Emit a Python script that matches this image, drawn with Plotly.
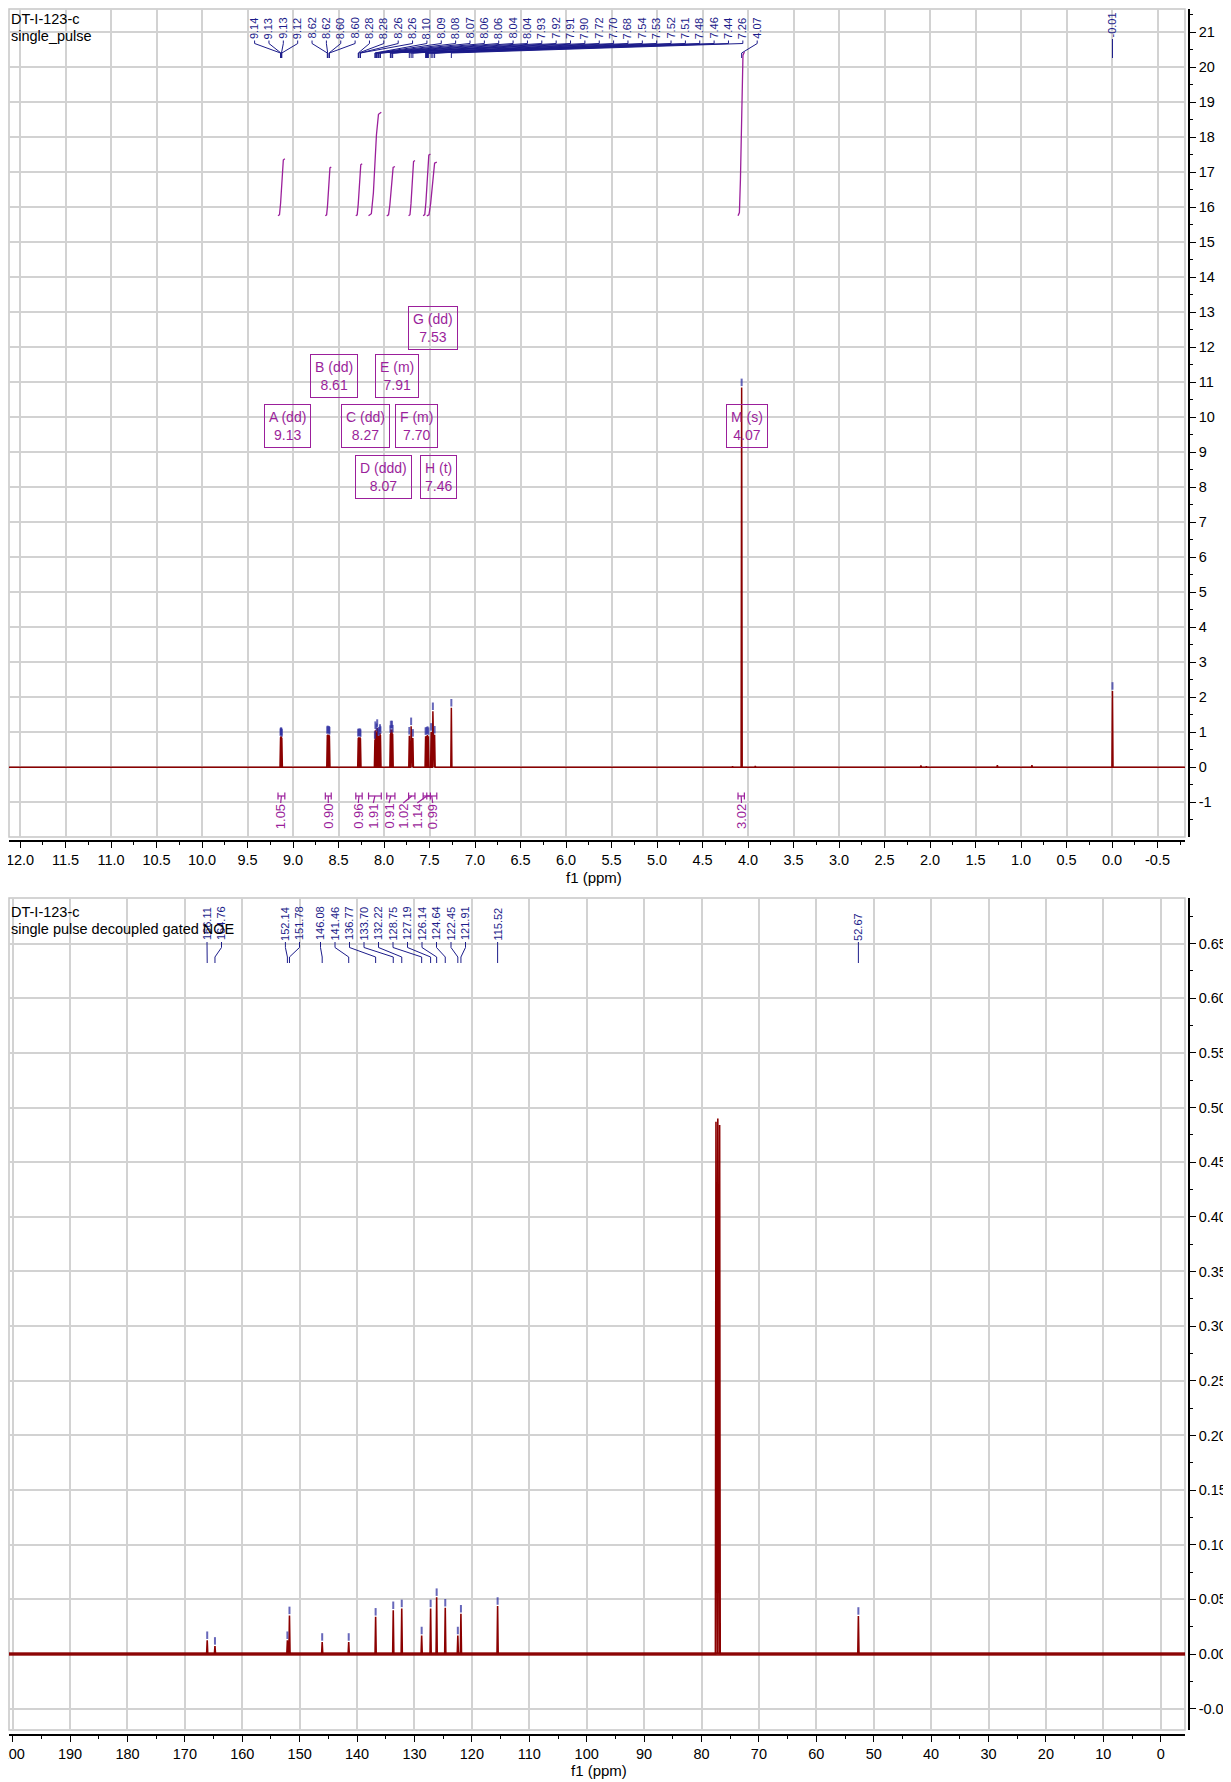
import plotly.graph_objects as go

# ======================= DATA =======================
# ---- 1H spectrum (top panel) ----
h1_peak_ppm = [9.137, 9.133, 9.127, 9.123,
               8.623, 8.619, 8.604, 8.600,
               8.283, 8.279, 8.263, 8.259,
               8.100, 8.095, 8.082, 8.075, 8.062, 8.057, 8.044, 8.039,
               7.930, 7.925, 7.912, 7.905,
               7.722, 7.702, 7.683,
               7.543, 7.533, 7.522, 7.512,
               7.482, 7.463, 7.444,
               7.260, 4.070, -0.005]
h1_peak_height = [0.86, 0.89, 0.88, 0.84,
                  0.92, 0.94, 0.93, 0.90,
                  0.84, 0.86, 0.86, 0.83,
                  0.78, 1.06, 1.00, 1.12, 0.86, 0.90, 0.98, 0.92,
                  0.95, 1.08, 1.08, 0.96,
                  0.90, 1.17, 0.84,
                  0.89, 0.90, 0.92, 0.89,
                  1.01, 1.60, 0.93,
                  1.70, 10.85, 2.18]
h1_peak_label = ["9.14", "9.13", "9.13", "9.12", "8.62", "8.62", "8.60", "8.60",
                 "8.28", "8.28", "8.26", "8.26", "8.10", "8.09", "8.08", "8.07",
                 "8.06", "8.06", "8.04", "8.04", "7.93", "7.92", "7.91", "7.90",
                 "7.72", "7.70", "7.68", "7.54", "7.53", "7.52", "7.51", "7.48",
                 "7.46", "7.44", "7.26", "4.07", "-0.01"]
h1_minor_ppm = [4.17, 3.92, 2.10, 2.04, 1.26, 0.88]
h1_minor_height = [0.03, 0.04, 0.05, 0.03, 0.06, 0.06]

h1_int_start = [9.165, 8.645, 8.310, 8.170, 7.970, 7.730, 7.570, 7.530, 4.110]
h1_int_end = [9.090, 8.580, 8.240, 8.030, 7.880, 7.660, 7.490, 7.420, 4.040]
h1_int_value = [1.05, 0.90, 0.96, 1.91, 0.91, 1.02, 1.14, 0.99, 3.02]
h1_int_label = ["1.05", "0.90", "0.96", "1.91", "0.91", "1.02", "1.14", "0.99", "3.02"]

mult_name = ["A (dd)", "B (dd)", "C (dd)", "D (ddd)", "E (m)", "F (m)", "G (dd)", "H (t)", "M (s)"]
mult_shift = ["9.13", "8.61", "8.27", "8.07", "7.91", "7.70", "7.53", "7.46", "4.07"]

# ---- 13C spectrum (bottom panel) ----
c13_peak_ppm = [166.11, 164.76, 152.14, 151.78, 146.08, 141.46, 136.77, 133.70, 132.22,
                128.75, 127.19, 126.14, 124.64, 122.45, 121.91, 115.52, 52.67]
c13_peak_height = [0.0126, 0.0074, 0.0126, 0.0353, 0.0110, 0.0110, 0.0340, 0.0400, 0.0417,
                   0.0169, 0.0417, 0.0520, 0.0423, 0.0169, 0.0368, 0.0439, 0.0348]
c13_peak_label = ["166.11", "164.76", "152.14", "151.78", "146.08", "141.46", "136.77",
                  "133.70", "132.22", "128.75", "127.19", "126.14", "124.64", "122.45",
                  "121.91", "115.52", "52.67"]
solvent_ppm = [77.48, 77.16, 76.84]
solvent_height = [0.487, 0.490, 0.484]

# ---- axes ticks ----
x1_tickvals = [12.0 - 0.5 * i for i in range(26)]
x1_ticktext = [f"{v:.1f}" for v in x1_tickvals]
y1_tickvals = list(range(-1, 22))
y1_ticktext = [str(v) for v in y1_tickvals]
x2_tickvals = [200 - 10 * i for i in range(21)]
x2_ticktext = [str(v) for v in x2_tickvals]
y2_tickvals = [round(-0.05 + 0.05 * i, 2) for i in range(15)]
y2_ticktext = [f"{v:.2f}" for v in y2_tickvals]

title_top = ["DT-I-123-c", "single_pulse"]
title_bot = ["DT-I-123-c", "single pulse decoupled gated NOE"]
axis_title = "f1 (ppm)"

# ======================= GEOMETRY / STYLE =======================
# page has an 8 px body margin: figure is placed at (8, 8)
FIG_W, FIG_H = 1223, 1774
M_L, M_R, M_T, M_B = 1, 38, 1, 47
PLOT_W = FIG_W - M_L - M_R   # 1184
PLOT_H = FIG_H - M_T - M_B   # 1726
PAGE_BOTTOM = 1735           # page px of plot-area bottom
PAGE_LEFT = 9                # page px of plot-area left


def pxx(px):
    return (px - PAGE_LEFT) / PLOT_W


def pxy(py):
    return (PAGE_BOTTOM - py) / PLOT_H


FRAME_L, FRAME_R = 9, 1185
TOP_T, TOP_B = 9, 837
BOT_T, BOT_B = 898, 1730
YAX_PX = 1189
TOP_XAX_PY = 841

X1_RANGE = [12.121, -0.802]
Y1_RANGE = [-1.99, 21.657]
X2_RANGE = [200.64, -4.23]
Y2_RANGE = [-0.0695, 0.6917]


def x_at(px, rng):
    return rng[0] + (px - FRAME_L) / (FRAME_R - FRAME_L) * (rng[1] - rng[0])


def px_of(x, rng):
    return FRAME_L + (x - rng[0]) / (rng[1] - rng[0]) * (FRAME_R - FRAME_L)


def y_at(py, rng, top, bot):
    return rng[1] - (py - top) / (bot - top) * (rng[1] - rng[0])


RED = "#8B0000"
NAVY = "#1c1c8a"
MARK = "rgba(45,45,160,0.72)"
PURPLE = "#9b1f9b"
GRID = "#d2d2d2"
FONT = "Liberation Sans"


def spectrum_xy(ppm, height, x_hi, x_lo, dw):
    pairs = sorted(zip(ppm, height), key=lambda t: -t[0])
    xs, ys = [x_hi], [0]
    for p, h in pairs:
        xs += [p + dw, p, p - dw]
        ys += [0, h, 0]
    xs.append(x_lo)
    ys.append(0)
    return xs, ys


fig = go.Figure()

# ---------------- top spectrum ----------------
sx, sy = spectrum_xy(h1_peak_ppm + h1_minor_ppm, h1_peak_height + h1_minor_height,
                     X1_RANGE[0], X1_RANGE[1], 0.006)
fig.add_trace(go.Scatter(x=sx, y=sy, mode="lines", line=dict(color=RED, width=1.5),
                         xaxis="x", yaxis="y", hoverinfo="skip"))

gap1, len1 = 1.3 / 35.02, 7.5 / 35.02
mx, my = [], []
for p, h in zip(h1_peak_ppm, h1_peak_height):
    mx += [p, p, None]
    my += [h + gap1, h + gap1 + len1, None]
fig.add_trace(go.Scatter(x=mx, y=my, mode="lines", line=dict(color=MARK, width=2),
                         xaxis="x", yaxis="y", hoverinfo="skip"))

annotations = []
lx_list = [254.6 + i * 14.36 for i in range(len(h1_peak_ppm) - 1)]
lx_list.append(px_of(h1_peak_ppm[-1], X1_RANGE))
lxs, lys = [], []
for i, (p, lab) in enumerate(zip(h1_peak_ppm, h1_peak_label)):
    lpx = lx_list[i]
    ppx = px_of(p, X1_RANGE)
    if i == len(h1_peak_ppm) - 1:
        pts = [(lpx, 39), (ppx, 58)]
        bottom = 38.5
    else:
        pts = [(lpx, 40.5), (lpx, 43.5), (ppx, 53), (ppx, 58)]
        bottom = 40
    for (a, b) in pts:
        lxs.append(x_at(a, X1_RANGE))
        lys.append(y_at(b, Y1_RANGE, TOP_T, TOP_B))
    lxs.append(None)
    lys.append(None)
    annotations.append(dict(x=pxx(lpx), y=pxy(bottom), xref="paper", yref="paper",
                            text=lab, textangle=-90, showarrow=False,
                            xanchor="center", yanchor="bottom", borderpad=0,
                            font=dict(family=FONT, size=11, color=NAVY)))
fig.add_trace(go.Scatter(x=lxs, y=lys, mode="lines", line=dict(color=NAVY, width=1),
                         xaxis="x", yaxis="y", hoverinfo="skip"))

INT_BASE = 15.75
INT_SCALE = 1.55
tf = [0.0, 0.22, 0.38, 0.62, 0.78, 1.0]
yf = [0.0, 0.02, 0.22, 0.78, 0.98, 1.0]
ix, iy = [], []
for s, e, v in zip(h1_int_start, h1_int_end, h1_int_value):
    for a, b in zip(tf, yf):
        ix.append(s + (e - s) * a)
        iy.append(INT_BASE + v * INT_SCALE * b)
    ix.append(None)
    iy.append(None)
fig.add_trace(go.Scatter(x=ix, y=iy, mode="lines", line=dict(color=PURPLE, width=1.3),
                         xaxis="x", yaxis="y", hoverinfo="skip"))

int_label_px = [280.7, 328.3, 358.3, 373.3, 389.0, 403.3, 417.3, 432.7, 741.5]
yb_mid = y_at(796, Y1_RANGE, TOP_T, TOP_B)
yb_hi = y_at(792.5, Y1_RANGE, TOP_T, TOP_B)
yb_lo = y_at(799.5, Y1_RANGE, TOP_T, TOP_B)
y_stem = y_at(803, Y1_RANGE, TOP_T, TOP_B)
bx, by = [], []
for s, e, lab, lpx in zip(h1_int_start, h1_int_end, h1_int_label, int_label_px):
    c = (s + e) / 2
    bx += [s, e, None, s, s, None, e, e, None, c, x_at(lpx, X1_RANGE), None]
    by += [yb_mid, yb_mid, None, yb_hi, yb_lo, None, yb_hi, yb_lo, None, yb_mid, y_stem, None]
    annotations.append(dict(x=pxx(lpx), y=pxy(803), xref="paper", yref="paper",
                            text=lab, textangle=-90, showarrow=False,
                            xanchor="center", yanchor="top", borderpad=0,
                            font=dict(family=FONT, size=13, color=PURPLE)))
fig.add_trace(go.Scatter(x=bx, y=by, mode="lines", line=dict(color=PURPLE, width=1.2),
                         xaxis="x", yaxis="y", hoverinfo="skip"))

mult_center_px = [(287, 425.6), (333.5, 376), (365, 425.6), (383, 477), (396.6, 376),
                  (416, 425.6), (432.5, 328), (438, 477), (747, 425.6)]
for name, sh, (cx, cy) in zip(mult_name, mult_shift, mult_center_px):
    annotations.append(dict(x=pxx(cx), y=pxy(cy), xref="paper", yref="paper",
                            text=f"{name}<br>{sh}", showarrow=False, align="center",
                            xanchor="center", yanchor="middle",
                            bordercolor=PURPLE, borderwidth=1, borderpad=4,
                            font=dict(family=FONT, size=14, color=PURPLE)))

# ---------------- bottom spectrum ----------------
fig.add_trace(go.Scatter(x=[X2_RANGE[0], X2_RANGE[1]], y=[0, 0], mode="lines",
                         line=dict(color=RED, width=3.6), opacity=0.9,
                         xaxis="x2", yaxis="y2", hoverinfo="skip"))
sx2, sy2 = spectrum_xy(c13_peak_ppm + solvent_ppm, c13_peak_height + solvent_height,
                       X2_RANGE[0], X2_RANGE[1], 0.10)
fig.add_trace(go.Scatter(x=sx2, y=sy2, mode="lines", line=dict(color=RED, width=1.6),
                         xaxis="x2", yaxis="y2", hoverinfo="skip"))

gap2, len2 = 1.3 / 1093.0, 7.5 / 1093.0
mx2, my2 = [], []
for p, h in zip(c13_peak_ppm, c13_peak_height):
    mx2 += [p, p, None]
    my2 += [h + gap2, h + gap2 + len2, None]
fig.add_trace(go.Scatter(x=mx2, y=my2, mode="lines", line=dict(color=MARK, width=2),
                         xaxis="x2", yaxis="y2", hoverinfo="skip"))

c13_label_px = [207.0, 221.5, 285.4, 299.5, 320.5, 335.0, 349.5, 364.0, 378.5, 393.0,
                407.5, 422.0, 436.5, 451.0, 465.5,
                px_of(c13_peak_ppm[15], X2_RANGE), px_of(c13_peak_ppm[16], X2_RANGE)]
lx2, ly2 = [], []
for p, lab, lpx in zip(c13_peak_ppm, c13_peak_label, c13_label_px):
    ppx = px_of(p, X2_RANGE)
    for (a, b) in [(lpx, 942), (lpx, 947.5), (ppx, 957), (ppx, 963)]:
        lx2.append(x_at(a, X2_RANGE))
        ly2.append(y_at(b, Y2_RANGE, BOT_T, BOT_B))
    lx2.append(None)
    ly2.append(None)
    annotations.append(dict(x=pxx(lpx), y=pxy(941.5), xref="paper", yref="paper",
                            text=lab, textangle=-90, showarrow=False,
                            xanchor="center", yanchor="bottom", borderpad=0,
                            font=dict(family=FONT, size=11, color=NAVY)))
fig.add_trace(go.Scatter(x=lx2, y=ly2, mode="lines", line=dict(color=NAVY, width=1),
                         xaxis="x2", yaxis="y2", hoverinfo="skip"))

# ---------------- titles ----------------
for txt, py in zip(title_top, [19.3, 36.4]):
    annotations.append(dict(x=pxx(9), y=pxy(py), xref="paper", yref="paper", text=txt,
                            showarrow=False, xanchor="left", yanchor="middle",
                            font=dict(family=FONT, size=14.5, color="black")))
for txt, py in zip(title_bot, [911.6, 928.7]):
    annotations.append(dict(x=pxx(9), y=pxy(py), xref="paper", yref="paper", text=txt,
                            showarrow=False, xanchor="left", yanchor="middle",
                            font=dict(family=FONT, size=14.5, color="black")))
for cx, cy in [(594, 877.5), (599, 1770)]:
    annotations.append(dict(x=pxx(cx), y=pxy(cy), xref="paper", yref="paper",
                            text=axis_title, showarrow=False, xanchor="center",
                            yanchor="middle", font=dict(family=FONT, size=15, color="black")))

# ---------------- frames ----------------
shapes = []
for xr, yr in [("x domain", "y domain"), ("x2 domain", "y2 domain")]:
    shapes.append(dict(type="rect", xref=xr, yref=yr, x0=0, x1=1, y0=0, y1=1,
                       line=dict(color="#c6c6c6", width=1.5), layer="below"))

tickfont = dict(family=FONT, size=14.5, color="black")
xdom = [0, pxx(FRAME_R)]
common_x = dict(showline=True, linecolor="black", linewidth=1.5, ticks="outside",
                ticklen=6, tickwidth=1, tickcolor="black", showgrid=True,
                gridcolor=GRID, gridwidth=1.5, zeroline=False, tickfont=tickfont,
                tickmode="array", anchor="free", domain=xdom, automargin=False,
                ticklabeloverflow="allow")
common_y = dict(showline=True, linecolor="black", linewidth=1.5, ticks="outside",
                ticklen=6, tickwidth=1, tickcolor="black", showgrid=True,
                gridcolor=GRID, gridwidth=1.5, zeroline=False, tickfont=tickfont,
                tickmode="array", anchor="free", side="right", position=pxx(YAX_PX),
                automargin=False, ticklabeloverflow="allow")

fig.update_layout(
    width=FIG_W, height=FIG_H,
    margin=dict(l=M_L, r=M_R, t=M_T, b=M_B, autoexpand=False),
    paper_bgcolor="white", plot_bgcolor="white",
    showlegend=False,
    xaxis=dict(common_x, range=X1_RANGE, tickvals=x1_tickvals, ticktext=x1_ticktext,
               position=pxy(TOP_XAX_PY),
               minor=dict(tickmode="linear", tick0=0, dtick=0.25, ticks="outside",
                          ticklen=3, tickcolor="black", showgrid=False)),
    yaxis=dict(common_y, range=Y1_RANGE, tickvals=y1_tickvals, ticktext=y1_ticktext,
               domain=[pxy(TOP_B), pxy(TOP_T)],
               minor=dict(tickmode="linear", tick0=0, dtick=0.5, ticks="outside",
                          ticklen=3, tickcolor="black", showgrid=False)),
    xaxis2=dict(common_x, range=X2_RANGE, tickvals=x2_tickvals, ticktext=x2_ticktext,
                position=0,
                minor=dict(tickmode="linear", tick0=0, dtick=5, ticks="outside",
                           ticklen=3, tickcolor="black", showgrid=False)),
    yaxis2=dict(common_y, range=Y2_RANGE, tickvals=y2_tickvals, ticktext=y2_ticktext,
                domain=[pxy(BOT_B), pxy(BOT_T)],
                minor=dict(tickmode="linear", tick0=0, dtick=0.025, ticks="outside",
                           ticklen=3, tickcolor="black", showgrid=False)),
    annotations=annotations,
    shapes=shapes,
)

fig.write_html("out.html")
